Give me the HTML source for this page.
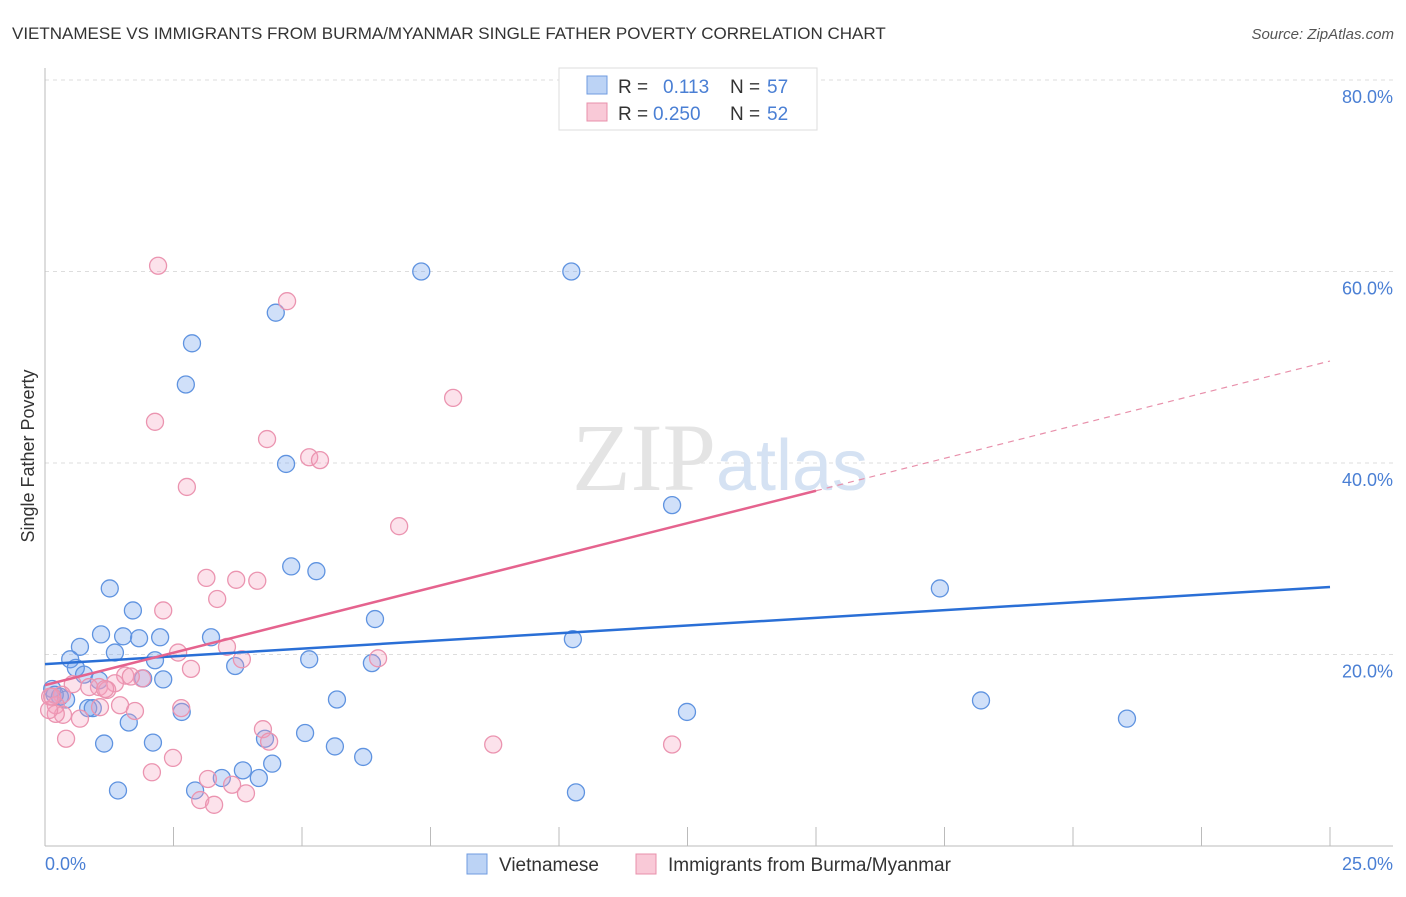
<!DOCTYPE html>
<html><head><meta charset="utf-8"><style>
body{margin:0;background:#fff;font-family:"Liberation Sans",sans-serif;}
</style></head><body>
<svg width="1406" height="892" xmlns="http://www.w3.org/2000/svg" font-family="Liberation Sans, sans-serif">
<text x="12" y="39" font-size="17" fill="#333">VIETNAMESE VS IMMIGRANTS FROM BURMA/MYANMAR SINGLE FATHER POVERTY CORRELATION CHART</text>
<text x="1394" y="39" font-size="15" fill="#555" font-style="italic" text-anchor="end">Source: ZipAtlas.com</text>
<g id="grid"></g>
<text x="720" y="490" font-size="96" fill="#e4e4e4" text-anchor="middle" font-family="Liberation Serif, serif">ZIP<tspan fill="#d5e2f3" font-family="Liberation Sans, sans-serif" font-size="72">atlas</tspan></text>
<g id="pts"></g>
<g id="lines"></g>
<text transform="translate(34,456) rotate(-90)" font-size="18" fill="#333" text-anchor="middle">Single Father Poverty</text>
<text x="45" y="870" font-size="18" fill="#4a7fd4">0.0%</text>
<text x="1393" y="870" font-size="18" fill="#4a7fd4" text-anchor="end">25.0%</text>
<g>
<rect x="559" y="68" width="258" height="62" fill="#fff" stroke="#ddd"/>
<rect x="587" y="76" width="20" height="18" fill="#bcd3f5" stroke="#6f9be0"/>
<text x="618" y="93" font-size="19" fill="#333">R = </text><text x="663" y="93" font-size="19" fill="#4a7fd4">0.113</text>
<text x="730" y="93" font-size="19" fill="#333">N = </text><text x="767" y="93" font-size="19" fill="#4a7fd4">57</text>
<rect x="587" y="103" width="20" height="18" fill="#f9c9d7" stroke="#e890ab"/>
<text x="618" y="120" font-size="19" fill="#333">R = </text><text x="653" y="120" font-size="19" fill="#4a7fd4">0.250</text>
<text x="730" y="120" font-size="19" fill="#333">N = </text><text x="767" y="120" font-size="19" fill="#4a7fd4">52</text>
</g>
<g>
<rect x="467" y="854" width="20" height="20" fill="#bcd3f5" stroke="#6f9be0"/>
<text x="499" y="871" font-size="19" fill="#333">Vietnamese</text>
<rect x="636" y="854" width="20" height="20" fill="#f9c9d7" stroke="#e890ab"/>
<text x="668" y="871" font-size="19" fill="#333">Immigrants from Burma/Myanmar</text>
</g>
</svg>
<script>
const blueX=[26.9,16.7,12.1,13.9,18.1,28.5,47.2,70.8,49.6,64.8,62.8,73.9,20.5,64.1,74.2,54.8,54.5,74.8,76.1,47.4,66.1,63.5,66.2,50.7,39.0,34.4,68.7,68.4,56.4,45.4,56.9,55.9,28.9,36.6,26.3,61.4,60.1,38.5,74.7,88.1,71.7,74.7,67.4,59.2,30.2,20.7,27.7,8.7,11.7,15.3,15.8,30.1,19.9,5.1,13.0,5.5];
const blueY=[];
const blueXpx=null;
</script>
<script>
// data in % units
const vietX=[10.24,7.32,4.49,2.86,2.74,4.69,12.2,17.41,1.26,4.79,5.28,1.71,6.42,10.27,1.83,1.09,1.52,2.24,3.23,0.68,1.36,0.49,2.14,5.14,6.36,3.7,0.6,0.76,2.3,1.91,1.05,0.14,0.29,0.41,0.19,5.68,18.21,0.84,0.93,2.66,12.49,21.05,1.63,5.06,4.28,1.15,2.1,5.64,6.19,4.42,3.85,3.44,4.16,1.42,2.92,10.33];
const vietY=[60.0,60.0,55.7,52.5,48.2,39.9,35.6,26.9,26.9,29.2,28.7,24.6,23.7,21.6,21.7,22.1,21.9,21.8,21.8,20.8,20.2,19.5,19.4,19.5,19.1,18.8,18.6,17.9,17.4,17.5,17.3,16.4,15.6,15.3,15.8,15.3,15.2,14.4,14.4,14.0,14.0,13.3,12.9,11.8,11.2,10.7,10.8,10.4,9.3,8.6,7.9,7.1,7.1,5.8,5.8,5.6];
const burmaX=[2.2,4.71,2.14,7.94,4.32,5.14,5.35,2.76,6.89,3.14,3.72,4.13,3.35,2.3,2.59,3.54,3.83,6.48,2.84,1.56,1.89,1.36,1.67,1.05,0.86,0.54,1.21,0.33,0.1,0.21,1.07,1.46,1.75,2.65,1.17,0.35,0.68,0.21,0.08,0.41,4.24,4.36,8.72,12.2,2.08,2.49,3.17,3.64,3.91,3.02,3.29,0.14];
const burmaY=[60.6,56.9,44.3,46.8,42.5,40.6,40.3,37.5,33.4,28.0,27.8,27.7,25.8,24.6,20.2,20.8,19.5,19.6,18.5,17.8,17.5,17.0,17.7,16.6,16.6,16.9,16.3,15.8,15.6,14.7,14.5,14.7,14.1,14.4,16.4,13.7,13.3,13.8,14.2,11.2,12.2,10.9,10.6,10.6,7.7,9.2,7.0,6.4,5.5,4.8,4.3,15.6];
const blueLineX=[0,25], blueLineY=[19.0,27.05];
const pinkSolidX=[0,15], pinkSolidY=[16.8,37.1];
const pinkDashX=[15,25], pinkDashY=[37.1,50.65];
const yTicks=[20,40,60,80];
const xTicks=[0,2.5,5,7.5,10,12.5,15,17.5,20,22.5,25];
const NS='http://www.w3.org/2000/svg';
const sx=v=>45+v/25*1285, sy=v=>846-v*9.575;
function mk(tag,attrs,parent){const e=document.createElementNS(NS,tag);for(const k in attrs)e.setAttribute(k,attrs[k]);parent.appendChild(e);return e;}
const grid=document.getElementById('grid');
yTicks.forEach(t=>{
 const l=mk('line',{x1:45,x2:1393,y1:sy(t),y2:sy(t),stroke:'#ddd','stroke-dasharray':'4,4'},grid);
 
 
 const tx=mk('text',{x:1393,y:sy(t)+23,'font-size':18,fill:'#4a7fd4','text-anchor':'end'},grid);
 tx.textContent=t.toFixed(1)+'%';
 
 
});
const ax=mk('line',{x1:45,x2:45,y1:68,y2:846,stroke:'#bbb'},grid);


const bx=mk('line',{x1:45,x2:1393,y1:846,y2:846,stroke:'#bbb'},grid);


xTicks.forEach(t=>{
 const l=mk('line',{x1:sx(t),x2:sx(t),y1:827,y2:846,stroke:'#bbb'},grid);
 
 
});
const pts=document.getElementById('pts');
vietX.forEach((x,i)=>{
 const c=mk('circle',{cx:sx(x),cy:sy(vietY[i]),r:8.5,fill:'rgba(110,160,235,0.32)',stroke:'#5f93e0','stroke-width':1.3},pts);
 
 
});
burmaX.forEach((x,i)=>{
 const c=mk('circle',{cx:sx(x),cy:sy(burmaY[i]),r:8.5,fill:'rgba(245,160,190,0.3)',stroke:'#eb94b0','stroke-width':1.3},pts);
 
 
});
const lines=document.getElementById('lines');
const b=mk('line',{x1:sx(blueLineX[0]),y1:sy(blueLineY[0]),x2:sx(blueLineX[1]),y2:sy(blueLineY[1]),stroke:'#2a6fd6','stroke-width':2.5},lines);


const p=mk('line',{x1:sx(pinkSolidX[0]),y1:sy(pinkSolidY[0]),x2:sx(pinkSolidX[1]),y2:sy(pinkSolidY[1]),stroke:'#e5638e','stroke-width':2.5},lines);


const d=mk('line',{x1:sx(pinkDashX[0]),y1:sy(pinkDashY[0]),x2:sx(pinkDashX[1]),y2:sy(pinkDashY[1]),stroke:'#e890ab','stroke-width':1.2,'stroke-dasharray':'6,5'},lines);


</script>
</body></html>
